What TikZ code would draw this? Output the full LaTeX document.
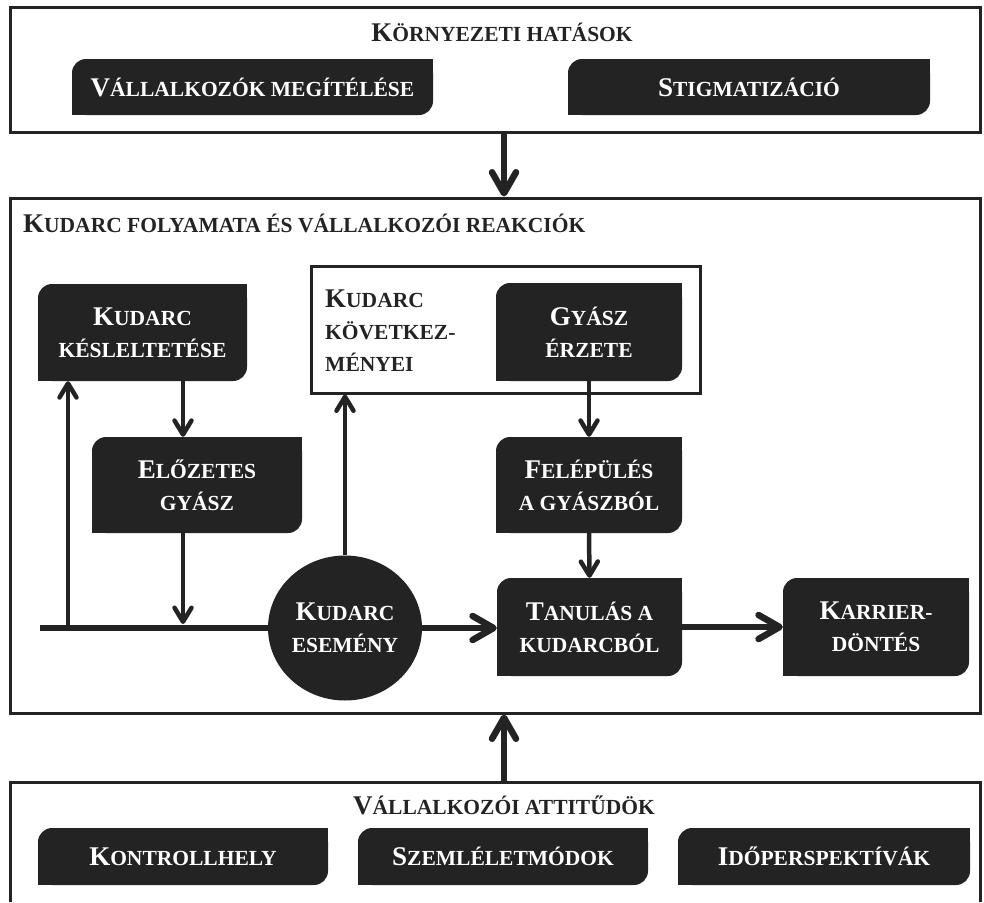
\documentclass[tikz,border=0pt]{standalone}
\usepackage{fontspec}
\setmainfont{Liberation Serif}
\usetikzlibrary{arrows.meta,shapes.geometric,backgrounds}
\definecolor{boxfill}{HTML}{232323}
\newcommand\Bg[1]{{\fontsize{27}{32}\selectfont #1}}
\tikzset{
  every node/.style={font=\fontsize{21.5}{32}\selectfont\bfseries},
  frame/.style={draw=boxfill, line width=3pt, inner sep=0pt},
  dbox/.style={fill=boxfill, text=white, rounded corners=14pt, inner sep=0pt, align=center},
  lbl/.style={inner sep=0pt, text=boxfill},
  bigarrow/.style={line width=6.5pt, draw=boxfill, -{Straight Barb[length=21pt,width=24pt,round]}},
  smallarrow/.style={line width=4.5pt, draw=boxfill, -{Straight Barb[length=14pt,width=17pt,round]}},
  mainline/.style={line width=6.5pt, draw=boxfill},
}
\newcommand\dbox[6]{%
  \node[dbox, minimum width={#4-#2}, minimum height={#5-#3}] (#1) at ({(#2+#4)/2},{(#3+#5)/2}) {#6};
  \begin{pgfonlayer}{background}
    \fill[boxfill] (#1.north east) rectangle ++(-16pt,-16pt);
    \fill[boxfill] (#1.south west) rectangle ++(16pt,16pt);
  \end{pgfonlayer}}
\begin{document}
\begin{tikzpicture}[x=1pt,y=-1pt]
\useasboundingbox (0,0) rectangle (984,902);
% outer frames
\node[frame, minimum width=970, minimum height=125] (env) at (495,69.5) {};
\node[frame, minimum width=970, minimum height=515] (mid) at (495,455.5) {};
\coordinate (bl) at (10,902);
\coordinate (br) at (980,902);
\coordinate (btl) at (10,782);
\coordinate (btr) at (980,782);
\draw[frame] (bl) -- (btl) -- (btr) -- (br);
\coordinate (ax) at (504,782);
% titles
\node[lbl, anchor=base] (envt) at (502,41) {\Bg{K}ÖRNYEZETI HATÁSOK};
\node[lbl, anchor=base west] (midt) at (23,232) {\Bg{K}UDARC FOLYAMATA ÉS VÁLLALKOZÓI REAKCIÓK};
\node[lbl, anchor=base] (attt) at (504,814) {\Bg{V}ÁLLALKOZÓI ATTITŰDÖK};
% top boxes
\dbox{vm}{72}{59}{433}{115}{\Bg{V}ÁLLALKOZÓK MEGÍTÉLÉSE}
\dbox{st}{568}{59}{930}{115}{\Bg{S}TIGMATIZÁCIÓ}
% bottom boxes
\dbox{kh}{38}{828}{328}{885}{\Bg{K}ONTROLLHELY}
\dbox{sz}{358}{828}{648}{885}{\Bg{S}ZEMLÉLETMÓDOK}
\dbox{ip}{678}{828}{970}{885}{\Bg{I}DŐPERSPEKTÍVÁK}
% middle
\node[frame, minimum width=389, minimum height=127] (kf) at (505.5,329.5) {};
\node[lbl, anchor=north west, align=left] (kft) at (325,290) {\Bg{K}UDARC\\KÖVETKEZ-\\MÉNYEI};
\dbox{kk}{38}{284}{247}{381}{\Bg{K}UDARC\\KÉSLELTETÉSE}
\dbox{pre}{92}{437}{302}{533}{\Bg{E}LŐZETES\\GYÁSZ}
\dbox{gy}{496}{283}{682}{381}{\Bg{G}YÁSZ\\ÉRZETE}
\dbox{fel}{496}{437}{682}{533}{\Bg{F}ELÉPÜLÉS\\A GYÁSZBÓL}
\dbox{tan}{497}{578}{682}{676}{\Bg{T}ANULÁS A\\KUDARCBÓL}
\dbox{kar}{783}{578}{969}{676}{\Bg{K}ARRIER-\\DÖNTÉS}
\node[ellipse, fill=boxfill, text=white, inner sep=0pt, align=center,
      minimum width=154, minimum height=145] (ev) at (345,628) {\Bg{K}UDARC\\ESEMÉNY};
% connectors
\draw[bigarrow] (env.south -| ax) -- (mid.north -| ax);
\draw[bigarrow] (ax) -- (mid.south -| ax);
\coordinate (lstart) at (40,628);
\coordinate (lk) at (68,628);
\coordinate (c183) at (183,0);
\coordinate (pj) at (183,624);
\draw[mainline] (lstart) -- (ev.west);
\draw[smallarrow] (lk) -- (kk.south -| lk);
\draw[smallarrow] (kk.south -| c183) -- (pre.north -| c183);
\draw[smallarrow] (pre.south -| c183) -- (pj);
\draw[smallarrow] (ev.north) -- (kf.south -| ev.north);
\draw[smallarrow] (gy.south) -- (fel.north);
\draw[smallarrow] (fel.south) -- (tan.north);
\draw[bigarrow] (ev.east) -- (tan.west |- ev.east);
\draw[bigarrow] (tan.east) -- (kar.west);
\end{tikzpicture}
\end{document}
